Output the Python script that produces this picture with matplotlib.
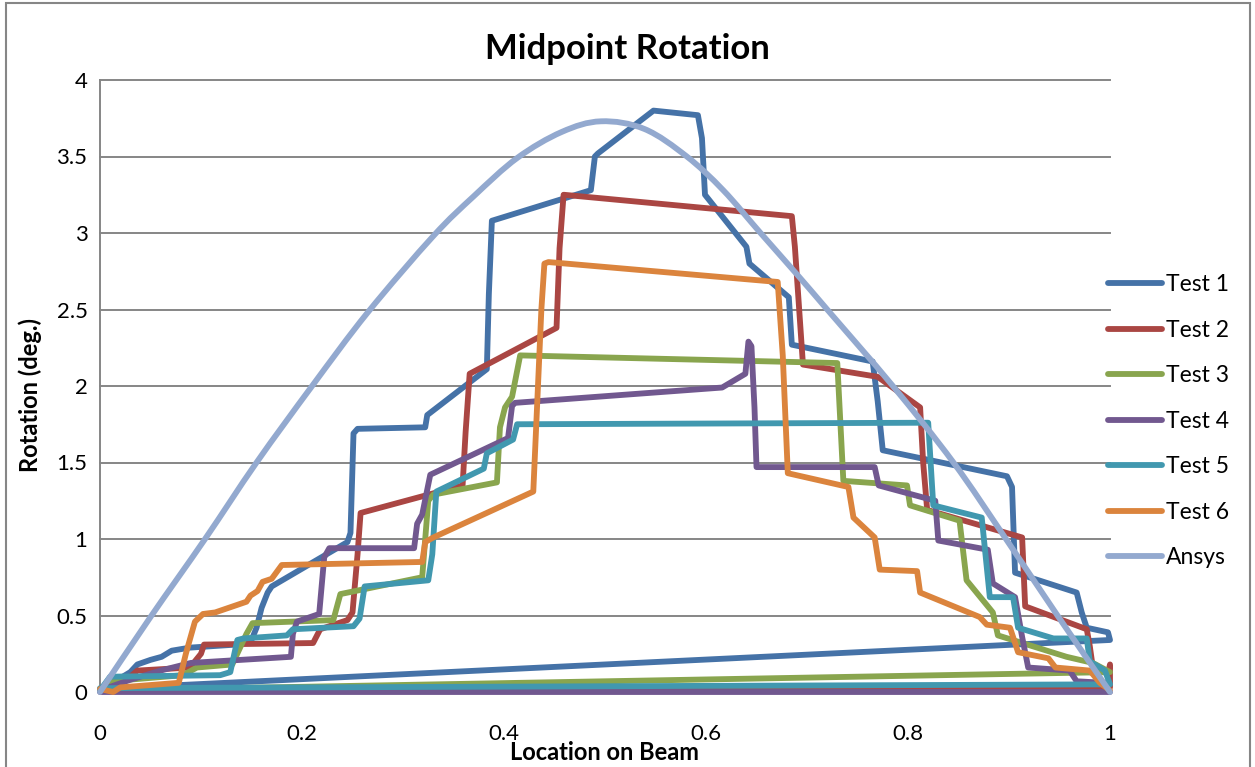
import numpy as np
import matplotlib
matplotlib.use('Agg')
import matplotlib.pyplot as plt
from matplotlib.patches import Rectangle, PathPatch
from matplotlib.path import Path
from matplotlib.lines import Line2D

plt.rcParams['font.family'] = ['Lato', 'DejaVu Sans']

# ---------------- data ----------------
test1_x = [0, 0.030, 0.037, 0.050, 0.061, 0.071, 0.089, 0.135, 0.150, 0.155, 0.160, 0.166, 0.170,
           0.245, 0.248, 0.251, 0.255, 0.322, 0.324, 0.383, 0.385, 0.388, 0.486, 0.490, 0.493,
           0.548, 0.592, 0.596, 0.599, 0.640, 0.643, 0.682, 0.685, 0.765, 0.770, 0.775, 0.898,
           0.903, 0.906, 0.967, 0.972, 0.977, 0.998, 1.0, 0.0]
test1_y = [0.01, 0.13, 0.18, 0.21, 0.23, 0.27, 0.29, 0.31, 0.34, 0.42, 0.55, 0.65, 0.69,
           0.98, 1.04, 1.69, 1.72, 1.73, 1.81, 2.11, 2.60, 3.08, 3.28, 3.50, 3.52,
           3.80, 3.77, 3.62, 3.25, 2.91, 2.80, 2.58, 2.27, 2.16, 1.90, 1.58, 1.41,
           1.34, 0.78, 0.65, 0.52, 0.42, 0.39, 0.34, 0.02]

test2_x = [0, 0.030, 0.037, 0.089, 0.100, 0.103, 0.211, 0.218, 0.245, 0.250, 0.255, 0.258,
           0.359, 0.362, 0.366, 0.452, 0.455, 0.459, 0.685, 0.688, 0.696, 0.770, 0.812, 0.815,
           0.819, 0.913, 0.916, 0.977, 0.980, 0.983, 0.998, 1.0, 1.0, 0.0]
test2_y = [0.01, 0.10, 0.14, 0.16, 0.25, 0.31, 0.32, 0.41, 0.47, 0.52, 0.90, 1.17,
           1.35, 1.70, 2.08, 2.38, 2.90, 3.25, 3.11, 2.91, 2.14, 2.06, 1.86, 1.50,
           1.19, 1.01, 0.56, 0.41, 0.30, 0.16, 0.12, 0.18, 0.03, 0.01]

test3_x = [0, 0.010, 0.082, 0.096, 0.131, 0.145, 0.151, 0.231, 0.238, 0.319, 0.325, 0.330,
           0.393, 0.396, 0.401, 0.408, 0.416, 0.730, 0.736, 0.799, 0.802, 0.851, 0.858, 0.884,
           0.889, 0.957, 0.983, 1.0, 0.0]
test3_y = [0.01, 0.07, 0.11, 0.16, 0.18, 0.38, 0.45, 0.47, 0.64, 0.75, 1.25, 1.29,
           1.37, 1.73, 1.86, 1.93, 2.20, 2.15, 1.38, 1.35, 1.22, 1.12, 0.73, 0.52,
           0.37, 0.23, 0.19, 0.13, 0.01]

test4_x = [0, 0.030, 0.060, 0.090, 0.189, 0.191, 0.195, 0.217, 0.222, 0.227, 0.311, 0.314,
           0.319, 0.327, 0.404, 0.408, 0.411, 0.616, 0.639, 0.642, 0.645, 0.648, 0.650, 0.767,
           0.771, 0.827, 0.830, 0.879, 0.884, 0.906, 0.913, 0.919, 0.960, 0.967, 0.995, 1.0, 0.0]
test4_y = [0.01, 0.08, 0.14, 0.19, 0.23, 0.38, 0.46, 0.51, 0.88, 0.94, 0.94, 1.10,
           1.16, 1.42, 1.66, 1.87, 1.89, 1.99, 2.08, 2.29, 2.26, 1.86, 1.47, 1.47,
           1.35, 1.25, 0.99, 0.93, 0.71, 0.62, 0.36, 0.16, 0.14, 0.07, 0.06, 0.0, 0.0]

test5_x = [0, 0.010, 0.119, 0.129, 0.136, 0.142, 0.185, 0.191, 0.251, 0.257, 0.262, 0.325,
           0.329, 0.333, 0.380, 0.383, 0.409, 0.413, 0.820, 0.825, 0.873, 0.881, 0.904, 0.909,
           0.944, 0.977, 0.980, 0.995, 1.0, 0.0]
test5_y = [0.01, 0.10, 0.11, 0.13, 0.34, 0.35, 0.37, 0.41, 0.43, 0.48, 0.69, 0.73,
           0.90, 1.31, 1.46, 1.56, 1.65, 1.75, 1.76, 1.22, 1.14, 0.62, 0.62, 0.42,
           0.35, 0.35, 0.20, 0.14, 0.05, 0.025]

test6_x = [0, 0.013, 0.020, 0.078, 0.085, 0.094, 0.102, 0.114, 0.145, 0.149, 0.156, 0.161,
           0.170, 0.180, 0.319, 0.322, 0.330, 0.429, 0.437, 0.440, 0.444, 0.671, 0.676, 0.681,
           0.741, 0.746, 0.767, 0.772, 0.809, 0.812, 0.871, 0.878, 0.901, 0.909, 0.939, 0.946,
           0.980, 0.990, 1.0]
test6_y = [0.02, 0.0, 0.03, 0.06, 0.25, 0.46, 0.51, 0.52, 0.59, 0.63, 0.66, 0.72,
           0.74, 0.83, 0.85, 0.98, 1.01, 1.31, 2.50, 2.80, 2.81, 2.68, 2.20, 1.43,
           1.34, 1.14, 1.01, 0.80, 0.79, 0.65, 0.49, 0.44, 0.42, 0.26, 0.22, 0.16,
           0.14, 0.06, 0.01]

ansys_x = [0, 0.05, 0.104, 0.155, 0.21, 0.265, 0.33, 0.37, 0.413, 0.457, 0.496, 0.539,
           0.581, 0.617, 0.654, 0.69, 0.72, 0.785, 0.845, 0.897, 0.948, 1.0]
ansys_y = [0, 0.49, 1.0, 1.5, 2.0, 2.48, 2.98, 3.24, 3.49, 3.66, 3.73, 3.68,
           3.5, 3.28, 3.0, 2.73, 2.5, 2.0, 1.5, 1.0, 0.5, 0.0]

series_names = ['Test 1', 'Test 2', 'Test 3', 'Test 4', 'Test 5', 'Test 6', 'Ansys']
series_x = [test1_x, test2_x, test3_x, test4_x, test5_x, test6_x, ansys_x]
series_y = [test1_y, test2_y, test3_y, test4_y, test5_y, test6_y, ansys_y]
colors = ['#4572A7', '#AA4643', '#89A54E', '#71588F', '#4198AF', '#DB843D', '#93A9CF']
smoothed = [False, False, False, False, False, False, True]

x_ticks = [0, 0.2, 0.4, 0.6, 0.8, 1.0]
x_tick_labels = ['0', '0.2', '0.4', '0.6', '0.8', '1']
y_ticks = [0, 0.5, 1, 1.5, 2, 2.5, 3, 3.5, 4]
y_tick_labels = ['0', '0.5', '1', '1.5', '2', '2.5', '3', '3.5', '4']


def smooth_path(xs, ys):
    """Excel-style smoothed line: cubic Bezier segments through the data points."""
    p = np.column_stack([xs, ys]).astype(float)
    n = len(p)
    verts = [p[0]]
    codes = [Path.MOVETO]
    for i in range(n - 1):
        p0 = p[i - 1] if i > 0 else p[i]
        p1, p2 = p[i], p[i + 1]
        p3 = p[i + 2] if i + 2 < n else p[i + 1]
        c1 = p1 + (p2 - p0) / 6.0
        c2 = p2 - (p3 - p1) / 6.0
        verts += [c1, c2, p2]
        codes += [Path.CURVE4] * 3
    return Path(verts, codes)


# ---------------- figure ----------------
W, H = 1255, 767
fig = plt.figure(figsize=(W / 100, H / 100), dpi=100)
ax = fig.add_axes([100 / W, 1 - 692 / H, 1010 / W, 612 / H])

grid_c = '#868686'
LW = 4.2
for name, xs, ys, c, sm in zip(series_names, series_x, series_y, colors, smoothed):
    if sm:
        patch = PathPatch(smooth_path(xs, ys), facecolor='none', edgecolor=c, lw=LW,
                          joinstyle='round', capstyle='round', clip_on=False, zorder=3)
        ax.add_patch(patch)
    else:
        ax.plot(xs, ys, color=c, lw=LW, solid_joinstyle='round', solid_capstyle='round',
                clip_on=False, zorder=3, label=name)

ax.set_xlim(0, 1)
ax.set_ylim(0, 4)
ax.set_xticks(x_ticks)
ax.set_xticklabels(x_tick_labels)
ax.set_yticks(y_ticks)
ax.set_yticklabels(y_tick_labels)
ax.grid(axis='y', color=grid_c, lw=1.4)
ax.grid(axis='x', visible=False)
ax.set_axisbelow(True)
for gl in ax.get_ygridlines():
    gl.set_clip_on(False)
for s in ['top', 'right']:
    ax.spines[s].set_visible(False)
for s in ['left', 'bottom']:
    ax.spines[s].set_color(grid_c)
    ax.spines[s].set_linewidth(1.4)
ax.tick_params(axis='both', length=0, labelsize=16, colors='black')
ax.tick_params(axis='x', pad=23)
ax.tick_params(axis='y', pad=9)

# title and axis labels
fig.text(0.5, 1 - 49 / H, 'Midpoint Rotation', ha='center', va='center',
         fontsize=25, fontweight='bold')
fig.text(605 / W, 1 - 752 / H, 'Location on Beam', ha='center', va='center',
         fontsize=17, fontweight='bold')
fig.text(30 / W, 1 - 395 / H, 'Rotation (deg.)', ha='center', va='center',
         rotation=90, fontsize=17, fontweight='bold')

# legend
handles = [Line2D([0], [0], color=c, lw=LW, solid_capstyle='round') for c in colors]
fig.legend(handles, series_names, loc='upper left', bbox_to_anchor=(1108 / W, 1 - 274 / H),
           frameon=False, fontsize=16.5, handlelength=2.35, handletextpad=0.2,
           labelspacing=1.07, borderpad=0, borderaxespad=0)

# chart border
fig.patches.append(Rectangle((6 / W, -0.05), (1250 - 6) / W, 1.05 - 3 / H,
                             transform=fig.transFigure, fill=False, ec=grid_c, lw=1.5))

fig.savefig('out.png', dpi=100)
